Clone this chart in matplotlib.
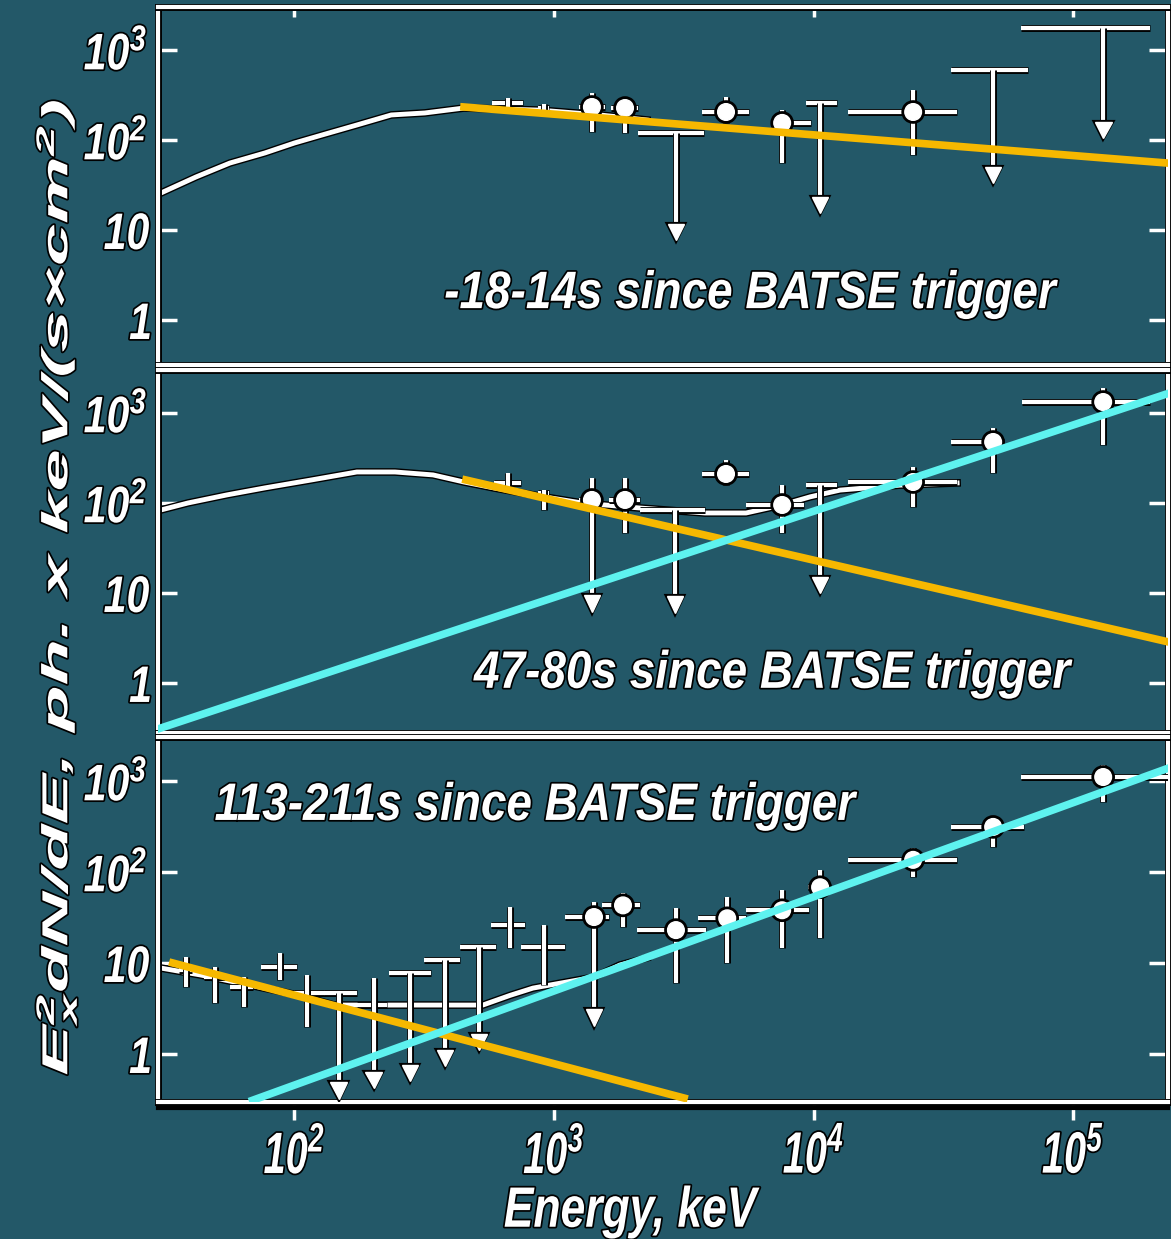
import numpy as np
import matplotlib
matplotlib.use("Agg")
import matplotlib.pyplot as plt
import matplotlib.patheffects as pe
from matplotlib.patheffects import AbstractPathEffect
from matplotlib.transforms import Affine2D
from matplotlib.ticker import NullLocator

BG = "#235868"
ORANGE = "#F6B800"
CYAN = "#5EF2EF"

plt.rcParams["font.family"] = "Liberation Sans"
plt.rcParams["font.weight"] = "bold"
plt.rcParams["font.style"] = "italic"
plt.rcParams["mathtext.fontset"] = "custom"
plt.rcParams["mathtext.rm"] = "Liberation Sans:italic:bold"
plt.rcParams["mathtext.it"] = "Liberation Sans:italic:bold"

# ---------------- panel 1: -18..14 s ----------------
p1_curve_E = [30.6, 41.7, 56.4, 76.9, 100, 128, 174, 236, 318, 450, 883, 1500, 2280]
p1_curve_F = [25.8, 38.8, 55.5, 71.8, 92.7, 114, 147, 190, 200, 227, 215, 190, 167]

p1_E = [665, 914, 1400, 1878, 4600, 7570, 24200]
p1_E_lo = [577, 870, 1247, 1660, 3715, 6850, 13600]
p1_E_hi = [760, 960, 1573, 2110, 5640, 9770, 35700]
p1_F = [258, 227, 233, 227, 205, 155, 205]
p1_F_lo = [230, 205, 123, 120, 155, 55.5, 68]
p1_F_hi = [290, 250, 333, 300, 300, 215, 360]
p1_dot = [False, False, True, True, True, True, True]

p1_ul_E = [2953, 10600, 49200, 130600]
p1_ul_E_lo = [2110, 9350, 33900, 63000]
p1_ul_E_hi = [3785, 12300, 67000, 198000]
p1_ul_F = [120, 258, 600, 1755]
p1_ul_tip = [9.5, 19, 40.8, 129]

p1_orange_E = [450, 240000]
p1_orange_F = [233, 55]

# ---------------- panel 2: 47-80 s ----------------
p2_curve_E = [30.6, 38.9, 55.0, 76.9, 116, 174, 244, 342, 450, 587, 914, 1282,
              2143, 3819, 5495, 7568, 9705, 12650, 21530, 35730]
p2_curve_F = [83.6, 100, 123, 147, 180, 221, 221, 205, 171, 147, 117, 100,
              87.9, 77.4, 77.4, 95.1, 117, 139, 158, 167]

p2_E = [665, 914, 1878, 4600, 7570, 24200, 49200, 130600]
p2_E_lo = [587, 870, 1633, 3715, 5495, 13600, 33900, 63500]
p2_E_hi = [746, 960, 2143, 5640, 9183, 35700, 54200, 198000]
p2_F = [167, 129, 108, 210, 95, 171, 476, 1324]
p2_F_lo = [129, 84, 46.4, 158, 46.4, 90, 215, 441]
p2_F_hi = [215, 140, 190, 300, 158, 251, 681, 1897]
p2_dot = [False, False, True, True, True, True, True, True]

p2_dn_E = [1400]
p2_dn_E_lo = [1247]
p2_dn_E_hi = [1531]
p2_dn_F = [108]
p2_dn_F_hi = [190]
p2_dn_tip = [7.7]
p2_dn_dot = [True]

p2_ul_E = [2925, 10600]
p2_ul_E_lo = [2143, 9350]
p2_ul_E_hi = [3819, 12300]
p2_ul_F = [83.5, 158]
p2_ul_tip = [7.4, 12.3]

p2_orange_E = [458, 240000]
p2_orange_F = [180, 2.8]
p2_cyan_E = [30, 240000]
p2_cyan_F = [0.31, 1700]

# ---------------- panel 3: 113-211 s ----------------
p3_curve_E = [30.6, 43.3, 67.5, 105, 142, 532, 676, 830, 1426, 1795, 2280]
p3_curve_F = [8.8, 7.4, 5.7, 4.4, 3.45, 3.45, 4.4, 5.3, 7.0, 9.5, 11.4]

p3_E = [38.2, 49.4, 63.9, 87.9, 112, 676, 914, 1845, 2950, 4650, 7570, 10600, 24200, 49200, 130600]
p3_E_lo = [35.9, 44.8, 56.4, 74.3, 100, 571, 746, 1531, 2089, 3589, 5495, 9528, 13600, 33900, 63100]
p3_E_hi = [40.3, 54.0, 69.2, 102, 132, 773, 1104, 2143, 3855, 5495, 9616, 11480, 35700, 64700, 232000]
p3_F = [8.4, 7.0, 5.4, 9.0, 4.7, 26.2, 15, 43, 23, 31, 38, 68, 136, 313, 1107]
p3_F_lo = [5.4, 3.6, 3.3, 6.5, 2.0, 14.6, 5.7, 24.9, 6.0, 10, 14.6, 18.8, 88, 188, 587]
p3_F_hi = [11.6, 9.0, 7.0, 12.9, 7.4, 41.2, 26.2, 58.7, 40.2, 53, 63.4, 105, 184, 402, 1500]
p3_dot = [False, False, False, False, False, False, False, True, True, True, True, True, True, True, True]

p3_dn_E = [202, 1426]
p3_dn_E_lo = [174, 1102]
p3_dn_E_hi = [227, 1629]
p3_dn_F = [3.45, 32]
p3_dn_F_hi = [6.8, 46.8]
p3_dn_tip = [0.52, 2.5]
p3_dn_dot = [False, True]

p3_ul_E = [148, 279, 380, 514]
p3_ul_E_lo = [130, 231, 316, 435]
p3_ul_E_hi = [174, 336, 435, 597]
p3_ul_F = [4.7, 7.8, 10.8, 15]
p3_ul_tip = [0.40, 0.62, 0.90, 1.36]

p3_orange_E = [34, 3170]
p3_orange_F = [10, 0.328]
p3_cyan_E = [69, 240000]
p3_cyan_F = [0.31, 1430]

panel_labels = ["-18-14s since BATSE trigger", "47-80s since BATSE trigger",
                "113-211s since BATSE trigger"]
ytick_vals = [1, 10, 100, 1000]
ytick_text = ["1", "10", r"$10^2$", r"$10^3$"]
xtick_vals = [1e2, 1e3, 1e4, 1e5]
xtick_text = [r"$10^2$", r"$10^3$", r"$10^4$", r"$10^5$"]


class Stretched(AbstractPathEffect):
    """draw text squeezed/stretched along its baseline, with a dark rim"""

    def __init__(self, sx, edge=2.5):
        super().__init__()
        self.sx = sx
        self.edge = edge

    def draw_path(self, renderer, gc, tpath, affine, rgbFace=None):
        if len(tpath.vertices) == 0:
            return
        c = (tpath.vertices[:, 0].min() + tpath.vertices[:, 0].max()) / 2
        aff = Affine2D().translate(-c, 0).scale(self.sx, 1).translate(c, 0) + affine
        gc0 = renderer.new_gc()
        gc0.copy_properties(gc)
        gc0.set_linewidth(self.edge)
        gc0.set_foreground("black")
        gc0.set_joinstyle("round")
        renderer.draw_path(gc0, tpath, aff, (0, 0, 0, 1))
        gc0.restore()
        renderer.draw_path(gc, tpath, aff, rgbFace)


def rim(lw):
    return [pe.Stroke(linewidth=lw + 2, foreground="black"), pe.Normal()]


def a(v):
    return np.asarray(v, dtype=float)


def draw_points(ax, E, Elo, Ehi, F, Flo, Fhi, dots):
    E, Elo, Ehi, F, Flo, Fhi = map(a, (E, Elo, Ehi, F, Flo, Fhi))
    for i in range(len(E)):
        eb = ax.errorbar([E[i]], [F[i]], xerr=[[E[i] - Elo[i]], [Ehi[i] - E[i]]],
                         yerr=[[F[i] - Flo[i]], [Fhi[i] - F[i]]],
                         fmt="o" if dots[i] else "none", ms=12, color="white",
                         elinewidth=3, capsize=0, zorder=3)
        for art in eb.get_children():
            art.set_path_effects(rim(3))


def draw_limits(ax, E, Elo, Ehi, F, tip, Ftop=None, dots=None):
    E, Elo, Ehi, F, tip = map(a, (E, Elo, Ehi, F, tip))
    top = F if Ftop is None else a(Ftop)
    dots = dots or [False] * len(E)
    for i in range(len(E)):
        eb = ax.errorbar([E[i]], [F[i]], xerr=[[E[i] - Elo[i]], [Ehi[i] - E[i]]],
                         yerr=[[F[i] - tip[i]], [top[i] - F[i]]],
                         fmt="o" if dots[i] else "none", ms=12, color="white",
                         elinewidth=3, capsize=0, zorder=3)
        for art in eb.get_children():
            art.set_path_effects(rim(3))
    ax.plot(E, tip, "v", ms=12, color="white", mec="white", zorder=3,
            path_effects=rim(1))


fig = plt.figure(figsize=(11.71, 12.39), dpi=100)
fig.patch.set_facecolor(BG)

boxes = [[0.1349, 0.7054, 0.8625, 0.2889],
         [0.1349, 0.4084, 0.8625, 0.2930],
         [0.1349, 0.1106, 0.8625, 0.2946]]
ylims = [(0.316, 3006), (0.278, 3006), (0.297, 3050)]
label_pos = [(0.586, 0.198), (0.608, 0.163), (0.373, 0.811)]

axes = [fig.add_axes(b) for b in boxes]
for i, ax in enumerate(axes):
    ax.set_facecolor(BG)
    ax.set_xscale("log")
    ax.set_yscale("log")
    ax.set_xlim(29.8, 2.32e5)
    ax.set_ylim(*ylims[i])
    ax.xaxis.set_minor_locator(NullLocator())
    ax.yaxis.set_minor_locator(NullLocator())
    ax.set_yticks(ytick_vals, ytick_text, fontsize=37, color="white",
                  path_effects=[Stretched(0.8)])
    ax.set_xticks(xtick_vals, xtick_text, fontsize=42, color="white",
                  path_effects=[Stretched(0.68)])
    ax.tick_params(axis="y", direction="in", length=14, width=2.5, color="white",
                   left=True, right=True, pad=2)
    if i == 2:
        ax.tick_params(axis="x", direction="out", length=13, width=2.5,
                       color="white", bottom=True, labelbottom=True, pad=8)
    elif i == 0:
        ax.tick_params(axis="x", direction="in", length=7, width=2.5, color="white",
                       bottom=False, top=True, labelbottom=False)
    else:
        ax.tick_params(axis="x", bottom=False, labelbottom=False)
    for name, sp in ax.spines.items():
        sp.set_color("white")
        sp.set_linewidth(3)
        effects = [pe.Stroke(linewidth=5, foreground="black"), pe.Normal()]
        if i == 2 and name == "bottom":
            effects = [pe.SimpleLineShadow(offset=(0, -4), shadow_color="black", alpha=1)] + effects
        sp.set_path_effects(effects)
    ax.text(*label_pos[i], panel_labels[i], transform=ax.transAxes, ha="center",
            va="center", fontsize=38, color="white", zorder=6,
            path_effects=[Stretched(0.87)])

ax1, ax2, ax3 = axes

# panel 1
ax1.plot(p1_curve_E, p1_curve_F, color="white", lw=3.5, zorder=2, path_effects=rim(3.5))
draw_points(ax1, p1_E, p1_E_lo, p1_E_hi, p1_F, p1_F_lo, p1_F_hi, p1_dot)
draw_limits(ax1, p1_ul_E, p1_ul_E_lo, p1_ul_E_hi, p1_ul_F, p1_ul_tip)
ax1.plot(p1_orange_E, p1_orange_F, color=ORANGE, lw=5.5, zorder=5)

# panel 2
ax2.plot(p2_curve_E, p2_curve_F, color="white", lw=3.5, zorder=2, path_effects=rim(3.5))
draw_points(ax2, p2_E, p2_E_lo, p2_E_hi, p2_F, p2_F_lo, p2_F_hi, p2_dot)
draw_limits(ax2, p2_dn_E, p2_dn_E_lo, p2_dn_E_hi, p2_dn_F, p2_dn_tip,
            Ftop=p2_dn_F_hi, dots=p2_dn_dot)
draw_limits(ax2, p2_ul_E, p2_ul_E_lo, p2_ul_E_hi, p2_ul_F, p2_ul_tip)
ax2.plot(p2_orange_E, p2_orange_F, color=ORANGE, lw=5.5, zorder=5)
ax2.plot(p2_cyan_E, p2_cyan_F, color=CYAN, lw=5.5, zorder=5)

# panel 3
ax3.plot(p3_curve_E, p3_curve_F, color="white", lw=3.5, zorder=2, path_effects=rim(3.5))
draw_points(ax3, p3_E, p3_E_lo, p3_E_hi, p3_F, p3_F_lo, p3_F_hi, p3_dot)
draw_limits(ax3, p3_dn_E, p3_dn_E_lo, p3_dn_E_hi, p3_dn_F, p3_dn_tip,
            Ftop=p3_dn_F_hi, dots=p3_dn_dot)
draw_limits(ax3, p3_ul_E, p3_ul_E_lo, p3_ul_E_hi, p3_ul_F, p3_ul_tip)
ax3.plot(p3_orange_E, p3_orange_F, color=ORANGE, lw=5.5, zorder=5)
ax3.plot(p3_cyan_E, p3_cyan_F, color=CYAN, lw=5.5, zorder=5)

fig.text(0.048, 0.526, r"E$^2_x$dN/dE, ph. x keV/(s×cm$^2$)", rotation=90,
         ha="center", va="center", fontsize=26, color="white",
         path_effects=[Stretched(2.1)])
fig.text(0.538, 0.022, "Energy, keV", ha="center", va="center", fontsize=41,
         color="white", path_effects=[Stretched(0.78)])

fig.savefig("out.png", dpi=100, facecolor=BG)
